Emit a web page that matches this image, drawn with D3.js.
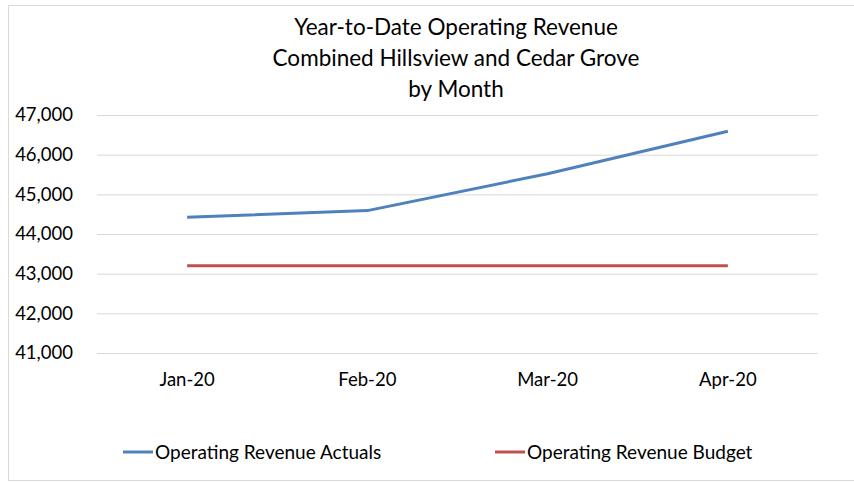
<!DOCTYPE html>
<html lang="en">
<head>
    <meta charset="UTF-8">
    <title>Year-to-Date Operating Revenue</title>
    <script src="https://d3js.org/d3.v7.min.js"></script>
    <style>
        body { margin: 0; background: #fff; }
        text { font-family: Lato, 'Open Sans', sans-serif; fill: #000; }
        .grid line { stroke: #d9d9d9; stroke-width: 1; }
        .grid path { display: none; }
    </style>
</head>
<body>
<script>
    const width  = 854;
    const height = 483;

    const months   = ["Jan-20", "Feb-20", "Mar-20", "Apr-20"];
    const actuals  = [44420, 44590, 45520, 46590];
    const budget   = [43200, 43200, 43200, 43200];
    const yTicks   = [41000, 42000, 43000, 44000, 45000, 46000, 47000];
    const titles   = ["Year-to-Date Operating Revenue", "Combined Hillsview and Cedar Grove", "by Month"];
    const seriesNames = ["Operating Revenue Actuals", "Operating Revenue Budget"];
    const colors   = ["#4f81bd", "#c0504d"];

    const margin = {top: 115, left: 97, right: 36, bottom: 130};

    const svg = d3.select("body").append("svg").attr("width", width).attr("height", height);

    // chart area border
    svg.append("rect")
        .attr("x", 8.5).attr("y", 5.5)
        .attr("width", width).attr("height", height - 8)
        .attr("fill", "none").attr("stroke", "#d9d9d9");

    const x = d3.scaleBand().domain(months).range([margin.left, width - margin.right]);
    const y = d3.scaleLinear().domain([41000, 47000]).range([353, margin.top]);

    // gridlines
    svg.append("g").attr("class", "grid")
        .attr("transform", `translate(${margin.left},0)`)
        .call(d3.axisLeft(y).tickValues(yTicks).tickSize(-(width - margin.right - margin.left)).tickFormat(""));

    // y labels
    svg.append("g").selectAll("text")
        .data(yTicks).enter()
        .append("text")
        .attr("x", 73)
        .attr("y", d => y(d))
        .attr("dy", "0.35em")
        .attr("text-anchor", "end")
        .style("font-size", "18.5px")
        .text(d => d3.format(",")(d));

    // x labels
    svg.append("g").selectAll("text")
        .data(months).enter()
        .append("text")
        .attr("x", d => x(d) + x.bandwidth() / 2)
        .attr("y", 380)
        .attr("dy", "0.35em")
        .attr("text-anchor", "middle")
        .style("font-size", "18.5px")
        .text(d => d);

    const line = d3.line()
        .x((d, i) => x(months[i]) + x.bandwidth() / 2)
        .y(d => y(d));

    [actuals, budget].forEach((s, i) => {
        svg.append("path")
            .attr("d", line(s))
            .attr("fill", "none")
            .attr("stroke", colors[i])
            .attr("stroke-width", 3)
            .attr("stroke-linejoin", "round");
    });

    // title
    svg.append("g").selectAll("text")
        .data(titles).enter()
        .append("text")
        .attr("x", 456)
        .attr("y", (d, i) => 27 + i * 31)
        .attr("dy", "0.35em")
        .attr("text-anchor", "middle")
        .style("font-size", "22.5px")
        .text(d => d);

    // legend
    const legendX = [123, 495];
    const lg = svg.append("g").selectAll("g")
        .data(seriesNames).enter()
        .append("g")
        .attr("transform", (d, i) => `translate(${legendX[i]},452)`);

    lg.append("line")
        .attr("x1", 0).attr("x2", 30)
        .attr("stroke", (d, i) => colors[i])
        .attr("stroke-width", 3);

    lg.append("text")
        .attr("x", 32)
        .attr("dy", "0.35em")
        .style("font-size", "19px")
        .text(d => d);
</script>
</body>
</html>
